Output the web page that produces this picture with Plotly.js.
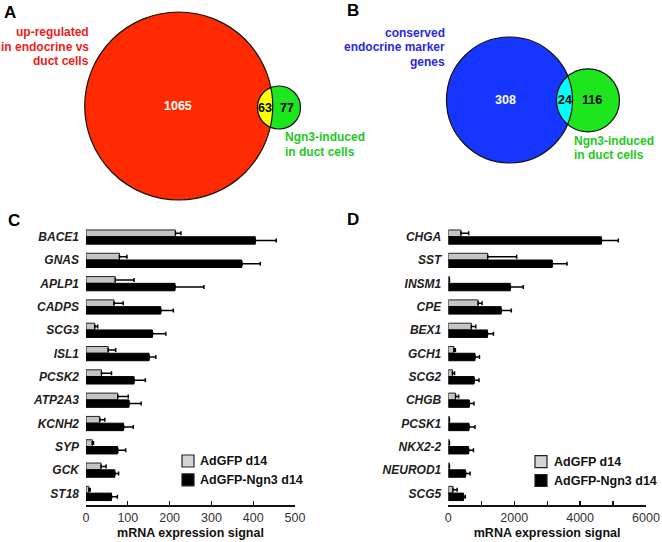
<!DOCTYPE html>
<html>
<head>
<meta charset="utf-8">
<script src="https://cdn.plot.ly/plotly-3.0.1.min.js"></script>
<style>html,body{margin:0;padding:0;background:#fff;}#chart{width:662px;height:542px;}</style>
</head>
<body>
<div id="chart"></div>
<script>
// ---------- DATA ----------
var vennACounts = [1065, 63, 77];
var vennALabelLeft = ['up-regulated', 'in endocrine vs', 'duct cells'];
var vennBCounts = [308, 24, 116];
var vennBLabelLeft = ['conserved', 'endocrine marker', 'genes'];
var vennLabelRight = ['Ngn3-induced', 'in duct cells'];

var genesC = ['BACE1', 'GNAS', 'APLP1', 'CADPS', 'SCG3', 'ISL1', 'PCSK2', 'ATP2A3', 'KCNH2', 'SYP', 'GCK', 'ST18'];
var gfpC = [214, 80, 70, 67, 21, 53, 37, 76, 33, 15, 36, 7];
var gfpErrC = [13, 18, 45, 22, 7, 18, 24, 25, 12, 3, 12, 3];
var ngnC = [405, 373, 213, 179, 159, 151, 115, 103, 90, 76, 69, 61];
var ngnErrC = [50, 44, 69, 30, 32, 16, 27, 29, 23, 19, 9, 14];

var genesD = ['CHGA', 'SST', 'INSM1', 'CPE', 'BEX1', 'GCH1', 'SCG2', 'CHGB', 'PCSK1', 'NKX2-2', 'NEUROD1', 'SCG5'];
var gfpD = [385, 1195, 35, 905, 700, 170, 125, 220, 35, 35, 35, 143];
var gfpErrD = [233, 880, 0, 120, 135, 45, 65, 95, 0, 0, 0, 125];
var ngnD = [4645, 3157, 1882, 1605, 1190, 810, 785, 638, 630, 618, 525, 460];
var ngnErrD = [515, 446, 394, 307, 180, 135, 147, 142, 180, 145, 135, 56];

var tickValsC = [0, 100, 200, 300, 400, 500];
var tickValsD = [0, 1000, 2000, 3000, 4000, 5000, 6000];
var tickTextD = ['0', '', '2000', '', '4000', '', '6000'];
var seriesNames = ['AdGFP d14', 'AdGFP-Ngn3 d14'];
var xTitle = 'mRNA expression signal';

// ---------- LAYOUT HELPERS ----------
var W = 662, H = 542;
var FONT = 'Liberation Sans, Arial, Helvetica, sans-serif';
function px(x) { return x / W; }
function py(y) { return 1 - y / H; }
function zeros(n) { var a = []; for (var i = 0; i < n; i++) a.push(0); return a; }

var shapes = [];
var annotations = [];

function circle(cx, cy, r, fill) {
  shapes.push({type: 'circle', xref: 'paper', yref: 'paper',
    x0: px(cx - r), x1: px(cx + r), y0: py(cy + r), y1: py(cy - r),
    fillcolor: fill, line: {color: '#111', width: 1.2}, layer: 'above'});
}
function lens(c1, c2, fill) {
  var dx = c2.x - c1.x, dy = c2.y - c1.y, d = Math.sqrt(dx * dx + dy * dy);
  var th = Math.atan2(dy, dx);
  var a = (d * d + c1.r * c1.r - c2.r * c2.r) / (2 * d);
  var al1 = Math.acos(a / c1.r);
  var al2 = Math.acos((d - a) / c2.r);
  var pts = [], n = 40, i, t;
  for (i = 0; i <= n; i++) {
    t = th - al1 + 2 * al1 * i / n;
    pts.push([c1.x + c1.r * Math.cos(t), c1.y + c1.r * Math.sin(t)]);
  }
  var arc2 = [];
  for (i = 0; i <= n; i++) {
    t = th + Math.PI - al2 + 2 * al2 * i / n;
    arc2.push([c2.x + c2.r * Math.cos(t), c2.y + c2.r * Math.sin(t)]);
  }
  var last = pts[pts.length - 1];
  var f = arc2[0], l = arc2[arc2.length - 1];
  if (Math.hypot(f[0] - last[0], f[1] - last[1]) > Math.hypot(l[0] - last[0], l[1] - last[1])) arc2.reverse();
  pts = pts.concat(arc2);
  var path = 'M' + pts.map(function (p) { return px(p[0]).toFixed(5) + ',' + py(p[1]).toFixed(5); }).join('L') + 'Z';
  shapes.push({type: 'path', xref: 'paper', yref: 'paper', path: path,
    fillcolor: fill, line: {color: '#111', width: 1.2}, layer: 'above'});
}
function txt(text, x, y, size, color, xanchor, bold) {
  annotations.push({text: bold === false ? text : '<b>' + text + '</b>', x: px(x), y: py(y),
    xref: 'paper', yref: 'paper', xanchor: xanchor || 'center', yanchor: 'middle',
    showarrow: false, font: {family: FONT, size: size, color: color}});
}

// ---------- VENN A ----------
var red = '#ff2a00', green = '#1ee61e', yellow = '#ffff00', blue = '#1636ff', cyan = '#00ffff';
var A1 = {x: 178.7, y: 106, r: 94}, A2 = {x: 279, y: 107.5, r: 21.5};
circle(A1.x, A1.y, A1.r, red);
circle(A2.x, A2.y, A2.r, green);
lens(A1, A2, yellow);
txt(String(vennACounts[0]), 178, 106, 12.5, '#ffffff');
txt(String(vennACounts[1]), 264.5, 108, 12.5, '#000');
txt(String(vennACounts[2]), 286.5, 108, 12.5, '#000');
vennALabelLeft.forEach(function (s, i) { txt(s, 91, 32 + i * 14.5, 12, '#ee1c1c', 'right'); });
vennLabelRight.forEach(function (s, i) { txt(s, 283, 137 + i * 15, 12, '#1ec81e', 'left'); });
txt('A', 9.5, 12, 17, '#000');

// ---------- VENN B ----------
var B1 = {x: 509.5, y: 100, r: 63}, B2 = {x: 588, y: 100.3, r: 31.5};
circle(B1.x, B1.y, B1.r, blue);
circle(B2.x, B2.y, B2.r, green);
lens(B1, B2, cyan);
txt(String(vennBCounts[0]), 505.5, 100, 12.5, '#ffffff');
txt(String(vennBCounts[1]), 564.5, 100, 12.5, '#000');
txt(String(vennBCounts[2]), 592, 100, 12.5, '#000');
vennBLabelLeft.forEach(function (s, i) { txt(s, 447, 32.5 + i * 14.6, 12, '#2a2ae0', 'right'); });
vennLabelRight.forEach(function (s, i) { txt(s, 572, 141 + i * 14.5, 12, '#1ec81e', 'left'); });
txt('B', 352.5, 11, 17, '#000');

// ---------- panel labels ----------
txt('C', 13.5, 220, 17, '#000');
txt('D', 352.5, 219.5, 17, '#000');

// ---------- custom legends ----------
function legend(bx, by, tx) {
  var cols = ['#d4d4d4', '#000000'];
  for (var i = 0; i < 2; i++) {
    var y0 = by + i * 18.8;
    shapes.push({type: 'rect', xref: 'paper', yref: 'paper', x0: px(bx), x1: px(bx + 12),
      y0: py(y0 + 12), y1: py(y0), fillcolor: cols[i], line: {color: '#222', width: 1.2}, layer: 'above'});
    txt(seriesNames[i], tx, y0 + 6, 12.5, '#111', 'left');
  }
}
legend(182, 455, 198.5);
legend(535, 455.7, 552);

// ---------- BAR TRACES ----------
function barPair(genes, gfp, gfpErr, ngn, ngnErr, xa, ya) {
  var eb = function (arr) {
    return {type: 'data', symmetric: false, array: arr, arrayminus: zeros(arr.length),
      color: '#000', thickness: 1.5, width: 2};
  };
  return [
    {type: 'bar', orientation: 'h', name: seriesNames[0], y: genes, x: gfp, xaxis: xa, yaxis: ya,
      offset: -0.30, width: 0.29, marker: {color: '#c4c4c4', line: {color: '#222', width: 1}},
      error_x: eb(gfpErr), showlegend: false, hoverinfo: 'x+y'},
    {type: 'bar', orientation: 'h', name: seriesNames[1], y: genes, x: ngn, xaxis: xa, yaxis: ya,
      offset: -0.01, width: 0.32, marker: {color: '#000', line: {color: '#000', width: 1}},
      error_x: eb(ngnErr), showlegend: false, hoverinfo: 'x+y'}
  ];
}
var data = barPair(genesC, gfpC, gfpErrC, ngnC, ngnErrC, 'x', 'y')
  .concat(barPair(genesD, gfpD, gfpErrD, ngnD, ngnErrD, 'x2', 'y2'));

var yDom = [py(505), py(225.3)];
function xAxis(domain, range, tv, tt) {
  var ax = {domain: domain, range: range, tickmode: 'array', tickvals: tv, ticks: 'inside', ticklen: 4,
    tickwidth: 1.2, tickcolor: '#111', showline: true, linecolor: '#111', linewidth: 1.5,
    showgrid: false, zeroline: false, fixedrange: true,
    tickfont: {family: FONT, size: 12.5, color: '#333'},
    title: {text: xTitle, font: {family: FONT, size: 12.5, color: '#111', weight: 'bold'}, standoff: 4}};
  if (tt) ax.ticktext = tt;
  return ax;
}
function yAxis(domain, anchor, cats) {
  return {domain: domain, anchor: anchor, type: 'category', categoryorder: 'array', categoryarray: cats,
    range: [11.5, -0.5], showline: false, showgrid: false, zeroline: false, ticks: '',
    ticklabelstandoff: 6, fixedrange: true,
    tickfont: {family: FONT, size: 12, color: '#222', weight: 'bold', style: 'italic'}};
}

var layout = {
  width: W, height: H, margin: {l: 0, r: 0, t: 0, b: 0},
  paper_bgcolor: '#fff', plot_bgcolor: 'rgba(0,0,0,0)',
  barmode: 'overlay', showlegend: false,
  xaxis: Object.assign(xAxis([px(86), px(295)], [0, 500], tickValsC), {anchor: 'y'}),
  yaxis: yAxis(yDom, 'x', genesC),
  xaxis2: Object.assign(xAxis([px(448.3), px(646)], [0, 6000], tickValsD, tickTextD), {anchor: 'y2'}),
  yaxis2: yAxis(yDom, 'x2', genesD),
  shapes: shapes, annotations: annotations
};

Plotly.newPlot('chart', data, layout, {displayModeBar: false, staticPlot: true});
</script>
</body>
</html>
